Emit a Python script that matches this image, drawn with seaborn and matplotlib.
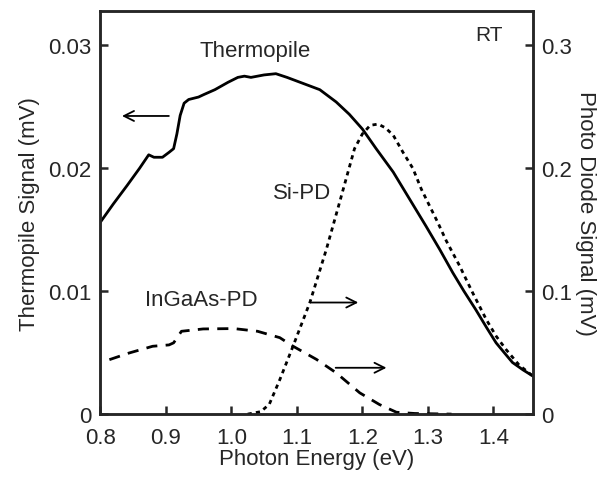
import pandas as pd
import matplotlib
matplotlib.use("Agg")
import matplotlib.pyplot as plt
import seaborn as sns

# Thermopile signal (left axis, mV)
thermo_E = [0.800, 0.820, 0.841, 0.860, 0.874, 0.882, 0.895, 0.905, 0.912, 0.917, 0.922,
            0.928, 0.935, 0.950, 0.958, 0.975, 0.995, 1.010, 1.020, 1.030, 1.050, 1.068,
            1.085, 1.100, 1.120, 1.135, 1.160, 1.180, 1.200, 1.221, 1.247, 1.272, 1.297,
            1.318, 1.338, 1.355, 1.373, 1.390, 1.404, 1.418, 1.429, 1.445, 1.460]
thermo_S = [0.0156, 0.0171, 0.0186, 0.0200, 0.0211, 0.0209, 0.0209, 0.0213, 0.0216, 0.0228, 0.0243,
            0.0253, 0.0256, 0.0258, 0.0260, 0.0264, 0.0270, 0.0274, 0.0275, 0.0274, 0.0276, 0.0277,
            0.0274, 0.0271, 0.0267, 0.0264, 0.0254, 0.0244, 0.0232, 0.0216, 0.0197, 0.0175, 0.0153,
            0.0134, 0.0115, 0.0100, 0.0085, 0.0070, 0.0058, 0.0049, 0.0042, 0.0036, 0.0031]

# Si photodiode (right axis, mV)
si_E = [1.025, 1.045, 1.058, 1.074, 1.094, 1.120, 1.145, 1.164, 1.188, 1.200, 1.212,
        1.224, 1.235, 1.247, 1.262, 1.277, 1.290, 1.302, 1.315, 1.328, 1.348, 1.368,
        1.389, 1.404, 1.419, 1.439, 1.460]
si_S = [0.000, 0.002, 0.008, 0.028, 0.055, 0.091, 0.134, 0.170, 0.216, 0.228, 0.235,
        0.236, 0.233, 0.227, 0.213, 0.200, 0.183, 0.170, 0.156, 0.141, 0.121, 0.099,
        0.077, 0.0635, 0.0527, 0.040, 0.031]

# InGaAs photodiode (right axis, mV)
ingaas_E = [0.814, 0.844, 0.880, 0.905, 0.912, 0.924, 0.957, 1.004, 1.040, 1.074, 1.094,
            1.130, 1.160, 1.196, 1.226, 1.252, 1.280, 1.336]
ingaas_S = [0.0443, 0.0497, 0.0552, 0.0563, 0.0580, 0.0674, 0.0693, 0.0696, 0.0674, 0.0622, 0.0553,
            0.0445, 0.0336, 0.0173, 0.0078, 0.0015, 0.0005, 0.000]

thermo = pd.DataFrame({"E": thermo_E, "S": thermo_S})
si = pd.DataFrame({"E": si_E, "S": si_S})
ingaas = pd.DataFrame({"E": ingaas_E, "S": ingaas_S})

sns.set_style("ticks")
plt.rcParams['font.family'] = ['Liberation Sans', 'DejaVu Sans']
plt.rcParams['xtick.direction'] = 'in'
plt.rcParams['ytick.direction'] = 'in'

fig = plt.figure(figsize=(6.11, 4.81), dpi=100)
ax = fig.add_axes([0.164, 0.137, 0.708, 0.838])
ax2 = ax.twinx()

sns.lineplot(data=thermo, x="E", y="S", ax=ax, color="black", lw=2.0,
             sort=False, estimator=None)
sns.lineplot(data=si, x="E", y="S", ax=ax2, color="black", lw=2.0,
             sort=False, estimator=None, linestyle=(0, (1.5, 1.5)))
sns.lineplot(data=ingaas, x="E", y="S", ax=ax2, color="black", lw=2.0,
             sort=False, estimator=None, linestyle=(0, (4, 3)))

ax.set_xlim(0.8, 1.46)
ax.set_ylim(0, 0.0328)
ax2.set_ylim(0, 0.328)
ax.set_xticks([0.8, 0.9, 1.0, 1.1, 1.2, 1.3, 1.4])
ax.set_xticklabels(["0.8", "0.9", "1.0", "1.1", "1.2", "1.3", "1.4"])
ax.set_yticks([0, 0.01, 0.02, 0.03])
ax.set_yticklabels(["0", "0.01", "0.02", "0.03"])
ax2.set_yticks([0, 0.1, 0.2, 0.3])
ax2.set_yticklabels(["0", "0.1", "0.2", "0.3"])

for a in (ax, ax2):
    a.tick_params(labelsize=16, length=6, width=1.8)
    for s in a.spines.values():
        s.set_linewidth(1.8)
        s.set_visible(True)
ax.tick_params(axis="x", top=False, pad=9)
ax.tick_params(axis="y", pad=6)
ax2.tick_params(axis="y", pad=6)

ax.set_xlabel("Photon Energy (eV)", fontsize=16, labelpad=0)
ax.set_ylabel("Thermopile Signal (mV)", fontsize=16, labelpad=6)
ax2.set_ylabel("Photo Diode Signal (mV)", fontsize=16, rotation=270, labelpad=17)

# annotations
ax2.text(1.036, 0.296, "Thermopile", fontsize=16, ha="center", va="center")
ax2.text(1.108, 0.180, "Si-PD", fontsize=16, ha="center", va="center")
ax2.text(0.954, 0.093, "InGaAs-PD", fontsize=16, ha="center", va="center")
ax2.text(1.393, 0.309, "RT", fontsize=15, ha="center", va="center")

arrow = dict(arrowstyle="->", color="black", lw=1.3, mutation_scale=18)
ax2.annotate("", xy=(0.829, 0.2426), xytext=(0.909, 0.2426), arrowprops=arrow)
ax2.annotate("", xy=(1.198, 0.0908), xytext=(1.118, 0.0908), arrowprops=arrow)
ax2.annotate("", xy=(1.241, 0.0377), xytext=(1.155, 0.0377), arrowprops=arrow)

fig.savefig("out.png", dpi=100)
